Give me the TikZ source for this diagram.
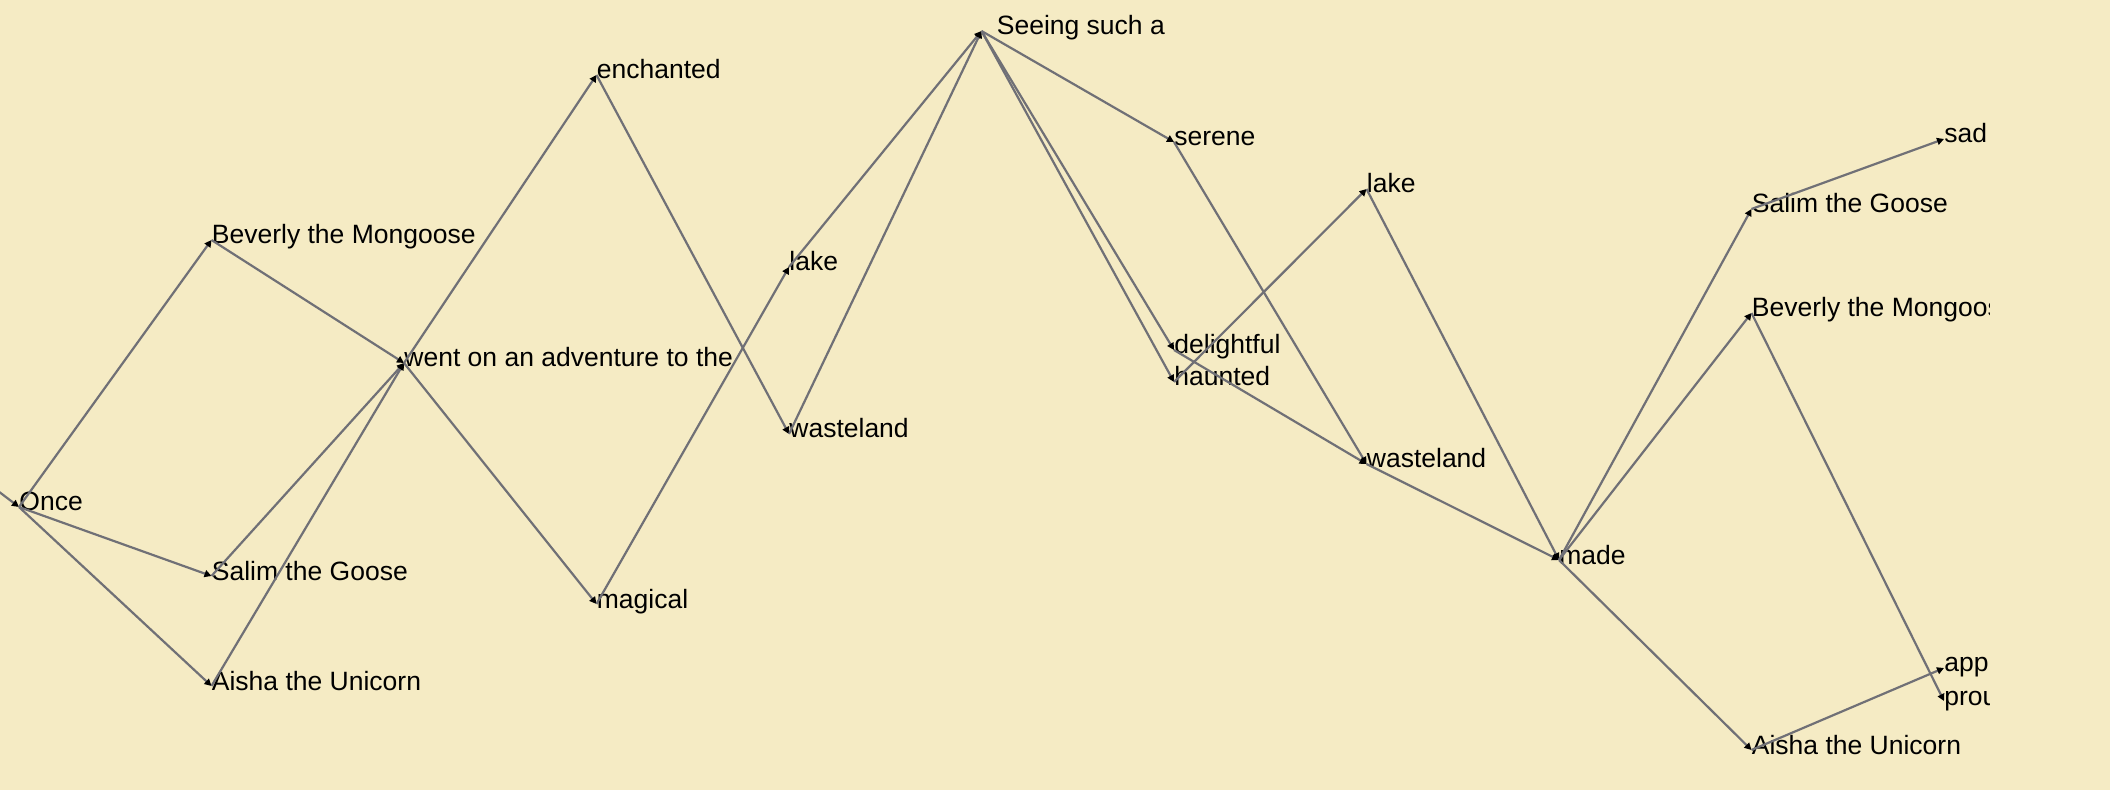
\documentclass[tikz,border=0pt]{standalone}
\usepackage{fontspec}
\setmainfont{Liberation Sans}
\usepackage{xcolor}
\usepackage{tikz}
\usetikzlibrary{arrows.meta}
\definecolor{parchment}{RGB}{245,235,196}
\definecolor{linkgray}{RGB}{112,112,118}
\tikzstyle{word} = [anchor=base west,inner xsep=0pt,inner ysep=0pt,font=\fontsize{13.25}{16}\selectfont]
\tikzstyle{link} = [linkgray,line width=1.1pt,-{Triangle[length=3.5pt,width=3.5pt,color=black]}]

\begin{document}
\begin{tikzpicture}[x=0.5pt,y=-0.5pt]
	% Paper:
	\fill [parchment] (0,0) rectangle (2110,790);
	\useasboundingbox (0,0) rectangle (2110,790);
	
	\begin{scope}
	% Texts are cut off on the right:
	\clip (-300,-10) rectangle (1989,800);
	
	% Words:
	% name/column/height/text, one column every 192.5
	% (text sits a little below the tip)
	\foreach \w/\col/\yy/\txt in {once/0/507/Once,
		bevA/1/240/Beverly the Mongoose, salA/1/576/Salim the Goose, aisA/1/686/Aisha the Unicorn,
		went/2/363/went on an adventure to the,
		ench/3/75/enchanted, magi/3/604/magical,
		lakeA/4/267/lake, wastA/4/434/wasteland,
		serene/6/142/serene, delight/6/350/delightful, haunt/6/382/haunted,
		lakeB/7/189/lake, wastB/7/464/wasteland,
		made/8/560/made,
		salB/9/209/Salim the Goose, bevB/9/313/Beverly the Mongoose, aisB/9/750/Aisha the Unicorn,
		sad/10/139/sad, appr/10/668/approving, prou/10/701/proud}{%
		\node [word] (\w) at ({19+192.5*\col},\yy) {\raisebox{-2pt}{\txt}};
	}
	\node [word,inner xsep=7.5pt] (seeing) at (981.5,31) {\raisebox{-2pt}{Seeing such a}};
	
	% Links:
	\coordinate (start) at (-200,340);
	\draw [link] (start) -- (once.base west);
	\foreach \a/\b in {once/bevA, once/salA, once/aisA,
		bevA/went, salA/went, aisA/went,
		went/ench, went/magi, ench/wastA, magi/lakeA,
		lakeA/seeing, wastA/seeing,
		seeing/serene, seeing/delight, seeing/haunt,
		serene/wastB, delight/wastB, haunt/lakeB,
		lakeB/made, wastB/made,
		made/salB, made/bevB, made/aisB,
		salB/sad, bevB/prou, aisB/appr}{%
		\draw [link] (\a.base west) -- (\b.base west);
	}
	\end{scope}
\end{tikzpicture}
\end{document}
